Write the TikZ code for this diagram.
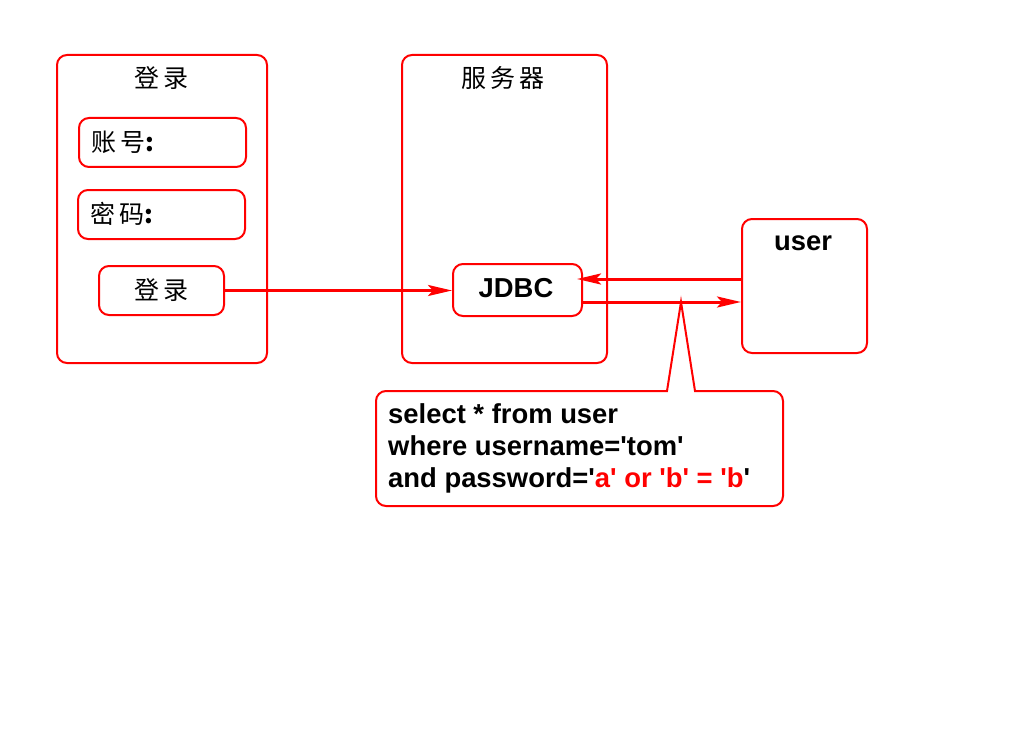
\documentclass[tikz,border=0pt]{standalone}
\usepackage{fontspec}
\setmainfont{Liberation Sans}
\newfontfamily\plainsans{Liberation Sans}
\newfontfamily\cjk{Noto Sans CJK SC}
\usetikzlibrary{arrows.meta}
\begin{document}
\begin{tikzpicture}[x=1pt,y=-1pt,
  rbox/.style={draw=red, line width=2pt, rounded corners=10pt, minimum width=#1, inner sep=0pt},
  ttl/.style={font=\cjk\fontsize{25}{28}\selectfont, inner sep=0pt},
  lbl/.style={font=\plainsans\bfseries\fontsize{27.4}{32}\selectfont, inner sep=0pt},
  arr/.style={draw=red, line width=3pt, -{Stealth[length=24pt,width=11pt,inset=5pt]}}]
\useasboundingbox (0,0) rectangle (1024,738);
% left panel
\node[rbox=210pt, minimum height=308pt] (login) at (162,209) {};
\node[ttl] (logintitle) at (161,78) {登\hspace{4pt}录};
\node[rbox=167pt, minimum height=49pt] (acct) at (162.5,142.5) {};
\node[ttl, anchor=west] (acctlbl) at (91,142) {账\hspace{4pt}号\textbf{:}};
\node[rbox=167pt, minimum height=49pt] (pwd) at (161.5,214.5) {};
\node[ttl, anchor=west] (pwdlbl) at (90,214) {密\hspace{4pt}码\textbf{:}};
\node[rbox=125pt, minimum height=49pt] (btn) at (161.5,290.5) {};
\node[ttl] (btnlbl) at (161,290) {登\hspace{4pt}录};
% server
\node[rbox=205pt, minimum height=308pt] (server) at (504.5,209) {};
\node[ttl] (servertitle) at (503,78) {服\hspace{4pt}务\hspace{4pt}器};
\node[rbox=129pt, minimum height=52pt] (jdbc) at (517.5,290) {};
\node[lbl] (jdbclbl) at (516,288) {JDBC};
% user
\node[rbox=125pt, minimum height=134pt] (user) at (804.5,286) {};
\node[lbl] (userlbl) at (803,243) {user};
% arrows
\draw[arr] (btn.east) -- (jdbc.west |- btn.east);
\draw[arr, shorten >=-6pt] (user.west |- 0,279) -- (jdbc.east |- 0,279);
\draw[arr] (jdbc.east |- 0,302) -- (user.west |- 0,302);
% callout
\node[rbox=407pt, minimum height=115pt] (sql) at (579.5,448.5) {};
\coordinate (tip) at (681,302);
\fill[white] (668,388) rectangle (694,394);
\draw[red, line width=2pt, line join=miter] (667,391) -- (tip) -- (695,391);
\node[lbl, anchor=west, align=left] (sqltext) at (388,448) {select * from user\\where username='tom'\\and password='\textcolor{red}{a' or 'b' = 'b}'};
\end{tikzpicture}
\end{document}
